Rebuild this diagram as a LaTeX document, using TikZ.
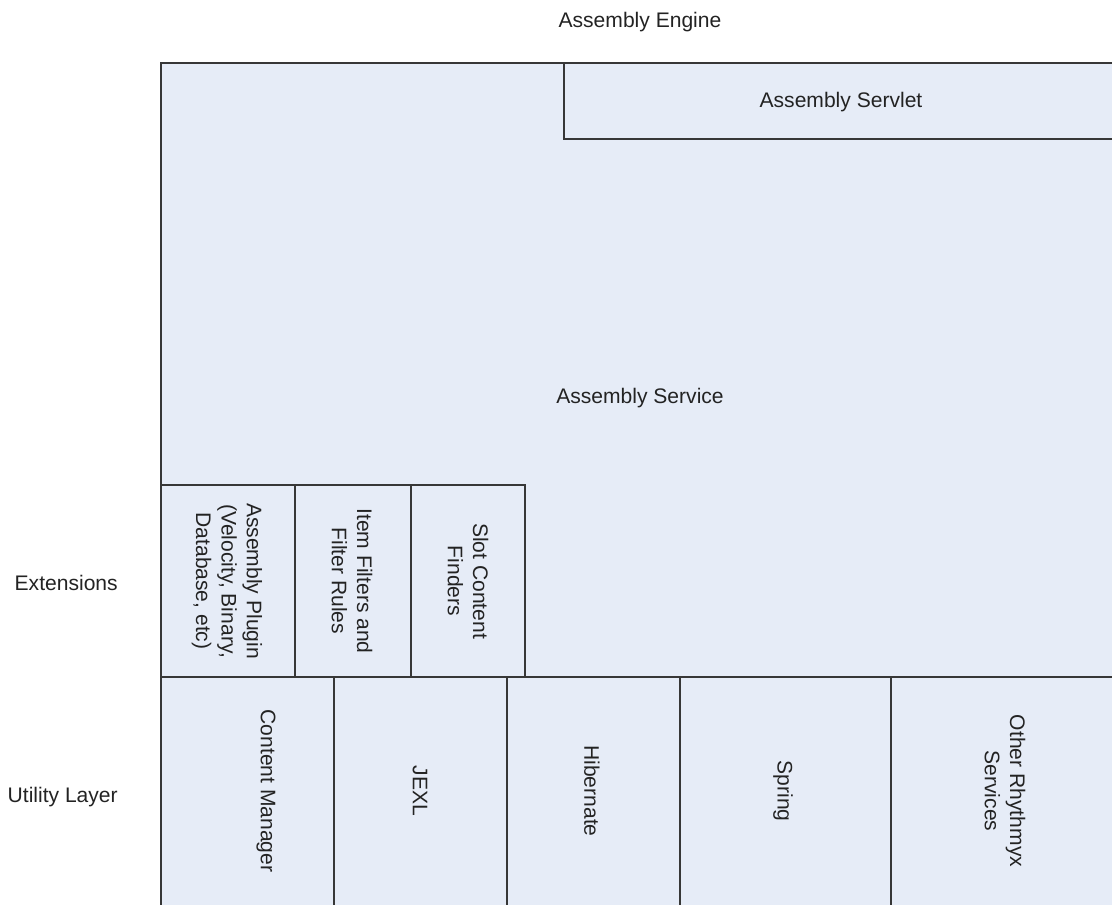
\documentclass[tikz,border=0pt]{standalone}
\usepackage{fontspec}
\setmainfont{Liberation Sans}
\usepackage{tikz}
\definecolor{pane}{RGB}{230,236,247}
\definecolor{edge}{RGB}{55,55,55}
\definecolor{ink}{RGB}{35,35,35}
\begin{document}
\begin{tikzpicture}[x=0.75pt, y=-0.75pt,
            blk/.style={draw=edge, line width=1.6pt, fill=pane},
            lbl/.style={text=ink, inner sep=0pt, font=\fontsize{15.8}{19}\selectfont},
            vlbl/.style={lbl, rotate=-90, align=center}]
        \useasboundingbox (0,0) rectangle (1112,904);
        \clip (0,0) rectangle (1112,904);

          % engine and service
          \node[lbl, anchor=base] (E) at (640,27) {Assembly Engine};
          \draw[blk] (161,63) rectangle (1119,677);
          \draw[blk] (564,63) rectangle (1119,139);
          \node[lbl, anchor=base] (Srv) at (841,107) {Assembly Servlet};
          \node[lbl, anchor=base] (Svc) at (640,403) {Assembly Service};

          % extensions
          \node[lbl, anchor=base east] (Ext) at (118,590) {Extensions};
          \draw[blk] (161,485) rectangle (295,677);
          \draw[blk] (295,485) rectangle (411,677);
          \draw[blk] (411,485) rectangle (525,677);
          \node[vlbl] (P) at (227,581) {Assembly Plugin\\(Velocity, Binary,\\Database, etc)};
          \node[vlbl] (F) at (352,581) {Item Filters and\\Filter Rules};
          \node[vlbl] (C) at (468,581) {Slot Content\\Finders};

          % utility layer
          \node[lbl, anchor=base east] (U) at (118,802) {Utility Layer};
          \draw[blk] (161,677) rectangle (334,912);
          \draw[blk] (334,677) rectangle (507,912);
          \draw[blk] (507,677) rectangle (680,912);
          \draw[blk] (680,677) rectangle (891,912);
          \draw[blk] (891,677) rectangle (1119,912);
          \node[vlbl] (M) at (266,791) {Content Manager};
          \node[vlbl] (J) at (420,791) {JEXL};
          \node[vlbl] (H) at (592,791) {Hibernate};
          \node[vlbl] (Sp) at (783,791) {Spring};
          \node[vlbl] (O) at (1005,791) {Other Rhythmyx\\Services};
        \end{tikzpicture}
\end{document}
